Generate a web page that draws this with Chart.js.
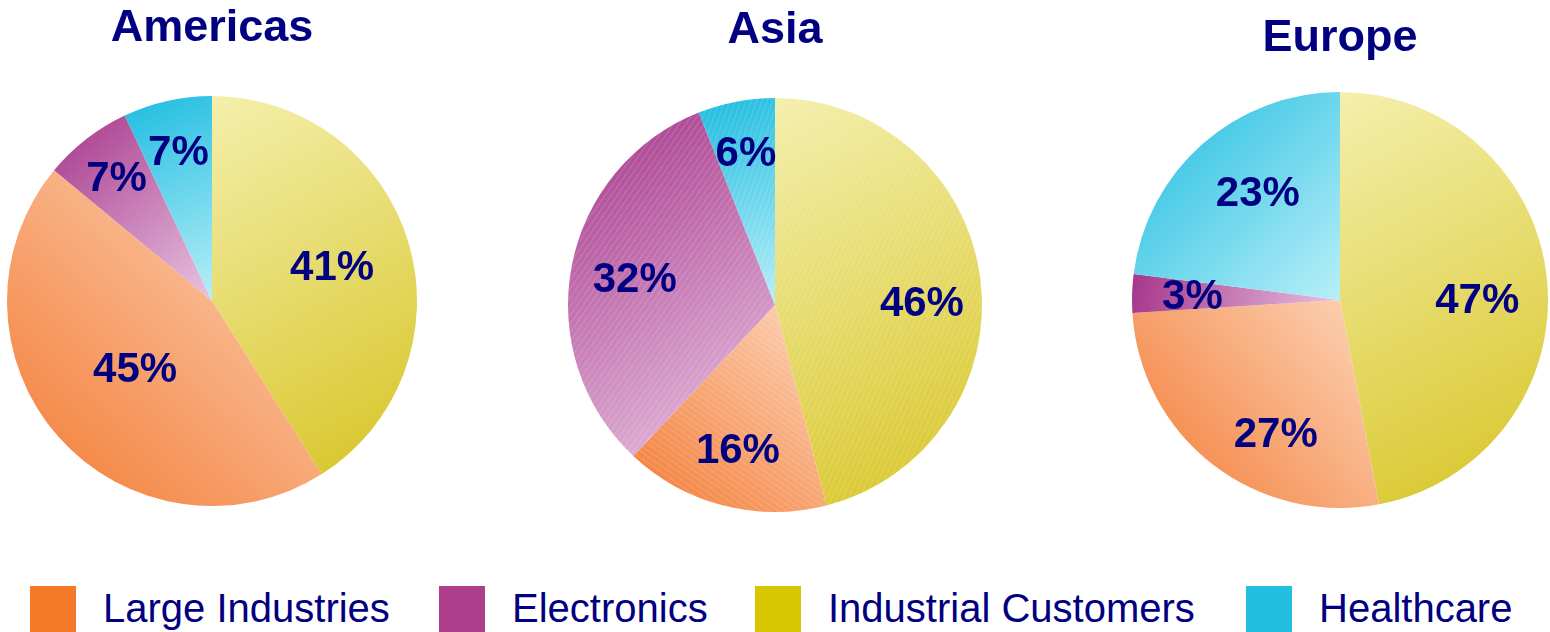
<!DOCTYPE html>
<html>
<head>
<meta charset="utf-8">
<script src="https://cdn.jsdelivr.net/npm/chart.js@4.4.0/dist/chart.umd.min.js"></script>
<style>
    html, body { margin: 0; padding: 0; background: #fff; }
    body { width: 1550px; height: 632px; position: relative; overflow: hidden; font-family: "Liberation Sans", Arial, sans-serif; }
    .pie { position: absolute; top: 0; height: 520px; }
    #legend { position: absolute; left: 0; top: 585px; width: 1550px; height: 47px; }
    .item { position: absolute; top: 0; height: 47px; display: flex; align-items: center; white-space: nowrap; }
    .swatch { width: 46px; height: 46px; margin-right: 27px; }
    .item span { font-size: 40px; line-height: 47px; color: #000080; }
</style>
</head>
<body>
<div class="pie" style="left:0;width:424px"><canvas id="pieAmericas"></canvas></div>
<div class="pie" style="left:545px;width:460px"><canvas id="pieAsia"></canvas></div>
<div class="pie" style="left:1130px;width:420px"><canvas id="pieEurope"></canvas></div>
<div id="legend"></div>

<script>
// Datos (orden de la leyenda)
const categories = ['Large Industries', 'Electronics', 'Industrial Customers', 'Healthcare'];
const regions = ['Americas', 'Asia', 'Europe'];
const americasShare = [45, 7, 41, 7];
const asiaShare = [16, 32, 46, 6];
const europeShare = [27, 3, 47, 23];
// orden de las porciones en sentido horario desde las 12
const sliceOrder = [2, 0, 1, 3];

// Colores: solido (leyenda), degradado oscuro/claro
const colors = {
    'Large Industries':     { solid: '#f47a2a', from: '#f37a33', to: '#fcd6bb', dir: 'bl' },
    'Electronics':          { solid: '#ad3e8c', from: '#a6368a', to: '#e8c4e2', dir: 'tl' },
    'Industrial Customers': { solid: '#d8c600', from: '#f4efac', to: '#d7c424', dir: 'tl' },
    'Healthcare':           { solid: '#22bfe0', from: '#1dbce0', to: '#b8eff8', dir: 'tl' }
};

const NAVY = '#000080';
const FONT = '"Liberation Sans", Arial, sans-serif';

// caja de la porcion para el degradado
function sliceGradient(context) {
    const chart = context.chart;
    const area = chart.chartArea;
    const label = chart.data.labels[context.dataIndex];
    const c = colors[label];
    if (!area) return c.solid;

    const data = chart.data.datasets[0].data;
    const total = data.reduce((s, v) => s + v, 0);
    const cx = (area.left + area.right) / 2;
    const cy = (area.top + area.bottom) / 2;
    const r = Math.min(area.right - area.left, area.bottom - area.top) / 2;

    let start = -Math.PI / 2;
    for (let i = 0; i < context.dataIndex; i++) start += data[i] / total * Math.PI * 2;
    const end = start + data[context.dataIndex] / total * Math.PI * 2;

    let x0 = cx, x1 = cx, y0 = cy, y1 = cy;
    for (let k = 0; k <= 40; k++) {
        const a = start + (end - start) * k / 40;
        const px = cx + Math.cos(a) * r, py = cy + Math.sin(a) * r;
        x0 = Math.min(x0, px); x1 = Math.max(x1, px);
        y0 = Math.min(y0, py); y1 = Math.max(y1, py);
    }

    const g = c.dir === 'bl'
        ? chart.ctx.createLinearGradient(x0, y1, x1, y0)
        : chart.ctx.createLinearGradient(x0, y0, x1, y1);
    g.addColorStop(0, c.from);
    g.addColorStop(1, c.to);
    return g;
}

// Etiquetas de porcentaje dentro de cada porcion
const sliceLabels = {
    id: 'sliceLabels',
    afterDatasetsDraw(chart, args, opts) {
        const meta = chart.getDatasetMeta(0);
        const data = chart.data.datasets[0].data;
        const ctx = chart.ctx;
        ctx.save();
        ctx.font = 'bold 42px ' + FONT;
        ctx.fillStyle = NAVY;
        ctx.textAlign = 'center';
        ctx.textBaseline = 'middle';
        meta.data.forEach((arc, i) => {
            const mid = (arc.startAngle + arc.endAngle) / 2 + (opts.turn[i] || 0) * Math.PI / 180;
            const rr = arc.outerRadius * opts.radius[i];
            ctx.fillText(data[i] + '%', arc.x + Math.cos(mid) * rr, arc.y + Math.sin(mid) * rr + 2);
        });
        ctx.restore();
    }
};

// Rayado fino (solo Asia)
const hatch = {
    id: 'hatch',
    afterDatasetDraw(chart, args, opts) {
        if (!opts.enabled) return;
        const ctx = chart.ctx;
        chart.getDatasetMeta(0).data.forEach((arc, i) => {
            const ang = opts.angles[i] * Math.PI / 180;
            const r = arc.outerRadius;
            ctx.save();
            ctx.beginPath();
            ctx.moveTo(arc.x, arc.y);
            ctx.arc(arc.x, arc.y, r, arc.startAngle, arc.endAngle);
            ctx.closePath();
            ctx.clip();
            ctx.translate(arc.x, arc.y);
            ctx.rotate(ang);
            ctx.strokeStyle = 'rgba(255,255,255,0.14)';
            ctx.lineWidth = 1.2;
            ctx.beginPath();
            for (let d = -r; d <= r; d += 5) {
                ctx.moveTo(d, -r);
                ctx.lineTo(d, r);
            }
            ctx.stroke();
            ctx.restore();
        });
    }
};

function buildPie(canvasId, title, shares, layout) {
    const labels = sliceOrder.map(i => categories[i]);
    const data = sliceOrder.map(i => shares[i]);
    return new Chart(document.getElementById(canvasId), {
        type: 'pie',
        data: {
            labels: labels,
            datasets: [{
                data: data,
                backgroundColor: sliceGradient,
                borderWidth: 0,
                hoverOffset: 0
            }]
        },
        options: {
            responsive: true,
            maintainAspectRatio: false,
            animation: false,
            events: [],
            layout: { padding: layout.padding },
            plugins: {
                legend: { display: false },
                tooltip: { enabled: false },
                title: {
                    display: true,
                    text: title,
                    color: NAVY,
                    font: { family: FONT, size: 45, weight: 'bold', lineHeight: 1 },
                    padding: layout.titlePadding
                },
                sliceLabels: { radius: layout.labelRadius, turn: layout.labelTurn || [] },
                hatch: { enabled: !!layout.hatch, angles: layout.hatch || [] }
            }
        },
        plugins: [sliceLabels, hatch]
    });
}

buildPie('pieAmericas', regions[0], americasShare, {
    padding: { left: 7, right: 7, top: 0, bottom: 14 },
    titlePadding: { top: 6, bottom: 45 },
    labelRadius: [0.61, 0.5, 0.76, 0.75]
});

buildPie('pieAsia', regions[1], asiaShare, {
    padding: { left: 23, right: 23, top: 0, bottom: 8 },
    titlePadding: { top: 8, bottom: 45 },
    labelRadius: [0.71, 0.72, 0.69, 0.75],
    labelTurn: [6, 0, 0, 0],
    hatch: [25, -55, 35, 20]
});

buildPie('pieEurope', regions[2], europeShare, {
    padding: { left: 2, right: 2, top: 0, bottom: 12 },
    titlePadding: { top: 16, bottom: 31 },
    labelRadius: [0.66, 0.71, 0.71, 0.65],
    labelTurn: [5, -12, 0, 4]
});

// Leyenda
const legendLeft = [30, 439, 755, 1246];
const legend = document.getElementById('legend');
categories.forEach((name, i) => {
    const item = document.createElement('div');
    item.className = 'item';
    item.style.left = legendLeft[i] + 'px';
    item.innerHTML = `<div class="swatch" style="background:${colors[name].solid}"></div><span>${name}</span>`;
    legend.appendChild(item);
});
</script>
</body>
</html>
